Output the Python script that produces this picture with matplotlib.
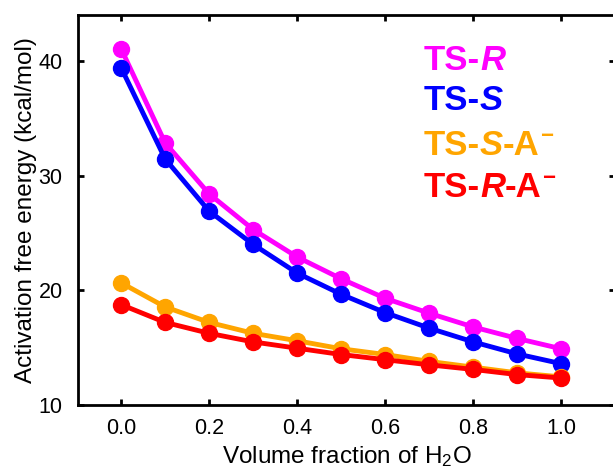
import matplotlib
matplotlib.use("Agg")
import matplotlib.pyplot as plt
import numpy as np

plt.rcParams['font.family'] = ['Liberation Sans', 'DejaVu Sans']
plt.rcParams['mathtext.fontset'] = 'custom'
plt.rcParams['mathtext.rm'] = 'Liberation Sans'
plt.rcParams['mathtext.it'] = 'Liberation Sans:italic'

# volume fraction of water
frac = [0.0, 0.1, 0.2, 0.3, 0.4, 0.5, 0.6, 0.7, 0.8, 0.9, 1.0]

ts_r = [41.05, 32.85, 28.4, 25.3, 22.9, 21.0, 19.3, 18.0, 16.8, 15.8, 14.9]
ts_s = [39.4, 31.45, 26.9, 24.0, 21.5, 19.65, 18.05, 16.7, 15.5, 14.45, 13.6]
ts_s_a = [20.65, 18.55, 17.2, 16.25, 15.6, 14.9, 14.4, 13.8, 13.3, 12.8, 12.45]
ts_r_a = [18.75, 17.2, 16.25, 15.5, 14.95, 14.4, 13.95, 13.5, 13.1, 12.65, 12.35]

xticks = [0.0, 0.2, 0.4, 0.6, 0.8, 1.0]
yticks = [10, 20, 30, 40]

fig = plt.figure(figsize=(6.13, 4.68), dpi=100)
ax = fig.add_axes([78/613, 63/468, 537/613, 390/468])

ax.plot(frac, ts_r, '-o', color='#FF00FF', lw=3.5, ms=11.5, zorder=3)
ax.plot(frac, ts_s, '-o', color='#0000FF', lw=3.5, ms=11.5, zorder=3)
ax.plot(frac, ts_s_a, '-o', color='#FFA500', lw=3.5, ms=11.5, zorder=3)
ax.plot(frac, ts_r_a, '-o', color='#FF0000', lw=3.5, ms=11.5, zorder=3)

ax.set_xlim(-0.098, 1.122)
ax.set_ylim(10, 44)
ax.set_xticks(xticks)
ax.set_xticklabels(['%.1f' % v for v in xticks])
ax.set_yticks(yticks)
ax.tick_params(direction='in', length=4, width=2, labelsize=15.5, top=True, right=True)
ax.tick_params(axis='x', pad=9)
ax.tick_params(axis='y', pad=11)
for s in ax.spines.values():
    s.set_linewidth(2)

ax.set_xlabel('Volume fraction of H$_2$O', fontsize=17.5, labelpad=4)
ax.set_ylabel('Activation free energy (kcal/mol)', fontsize=17.5, labelpad=1)

# legend built from text pieces (bold, italic letter, superscript minus)
labels = [('R', '', '#FF00FF', 0.859),
          ('S', '', '#0000FF', 0.756),
          ('S', '-A', '#FFA500', 0.641),
          ('R', '-A', '#FF0000', 0.533)]
for let, tail, col, yy in labels:
    t1 = ax.text(0.644, yy, 'TS-', transform=ax.transAxes, fontsize=25,
                 fontweight='bold', color=col, va='baseline')
    t2 = ax.annotate(let, xy=(1, 0), xycoords=t1, fontsize=25, fontweight='bold',
                     style='italic', color=col, va='bottom')
    if tail:
        t3 = ax.annotate(tail, xy=(1, 0), xycoords=t2, fontsize=25,
                         fontweight='bold', color=col, va='bottom')
        ax.annotate('\u2212', xy=(1, 1), xycoords=t3, xytext=(0.5, 2),
                    textcoords='offset points', fontsize=16, fontweight='bold',
                    color=col, va='top')

fig.savefig('out.png', dpi=100)
